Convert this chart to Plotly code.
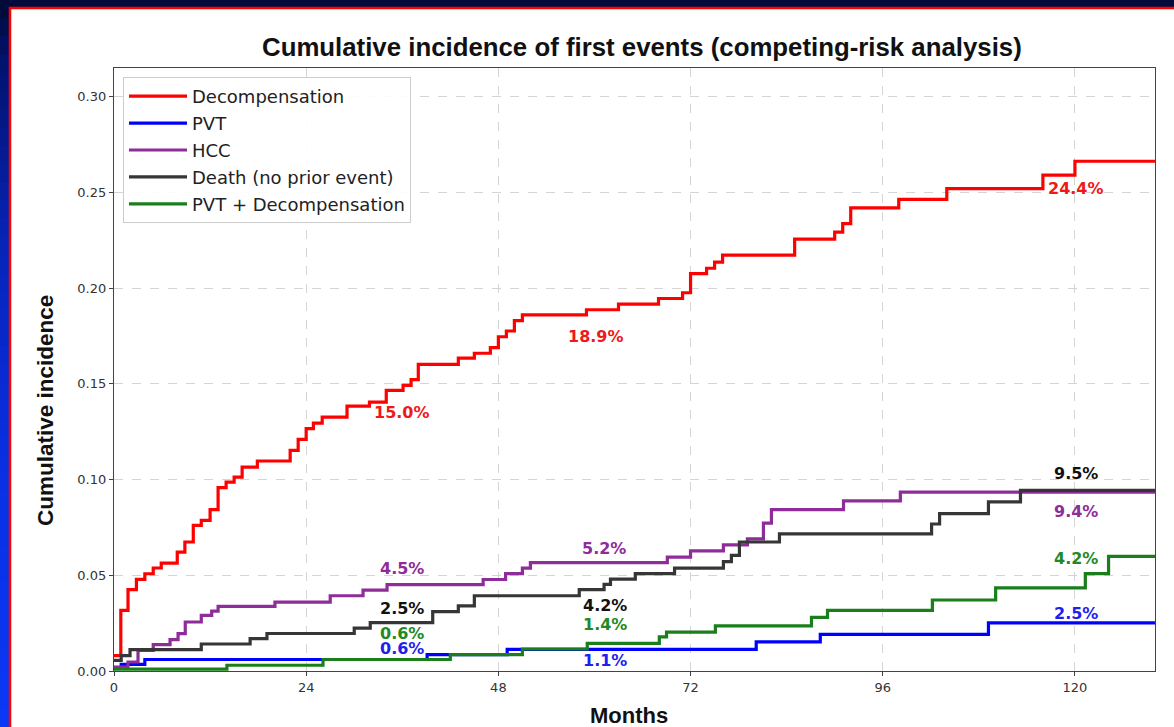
import plotly.graph_objects as go

T_MAX = 130

# ---------------- data (months, cumulative incidence) ----------------
decomp_t = [0, 0.85, 1.75, 2.8, 3.85, 4.9, 5.9, 7.9, 8.85, 9.9, 10.9, 12, 13, 14, 15, 16, 17.9,
            22, 23, 24, 24.9, 26, 29.1, 31.9, 34, 36.1, 37.1, 38, 43, 45, 47, 48, 49, 50, 51,
            59, 63, 68, 71, 72, 74, 75, 76, 85, 90, 91, 92, 98, 104, 116, 120]
decomp_v = [0.008, 0.0317, 0.0425, 0.0479, 0.0508, 0.0538, 0.0564, 0.0621, 0.0674, 0.0761,
            0.0787, 0.0843, 0.0958, 0.0987, 0.1013, 0.1065, 0.1097, 0.1153, 0.121, 0.1266,
            0.1295, 0.1326, 0.1384, 0.1405, 0.1466, 0.1492, 0.1522, 0.1602, 0.1634, 0.166,
            0.1689, 0.1746, 0.1776, 0.1830, 0.1860, 0.1887, 0.1917, 0.1946, 0.1976, 0.2076,
            0.2104, 0.2136, 0.2172, 0.2256, 0.2293, 0.2337, 0.2419, 0.2464, 0.2520, 0.2590, 0.2663]

pvt_t = [0, 0.9, 3.85, 39.1, 49.1, 80.2, 88.2, 109.2]
pvt_v = [0.0015, 0.0035, 0.006, 0.0086, 0.0113, 0.0152, 0.0191, 0.0251]

hcc_t = [0, 1.75, 3, 4.9, 7, 8, 8.9, 10.9, 12.2, 13, 20.1, 27, 31.1, 34.1, 46.1, 48.9, 51, 52,
         69.1, 72, 76.1, 79.1, 81.1, 82.1, 91.1, 98.2]
hcc_v = [0.002, 0.0047, 0.0108, 0.0138, 0.0164, 0.0195, 0.0256, 0.0291, 0.0313, 0.0338, 0.036,
         0.0393, 0.0422, 0.0451, 0.0478, 0.0509, 0.0537, 0.0566, 0.0595, 0.0628, 0.0659, 0.069,
         0.0772, 0.0843, 0.0889, 0.0934]

death_t = [0, 0.9, 2, 10.9, 17, 19.1, 30, 32, 39.8, 43, 45, 58.1, 61.2, 62, 65.1, 70, 76.1, 77.1,
           78.1, 83.1, 102.1, 103.1, 109.2, 113.2]
death_v = [0.0056, 0.008, 0.0112, 0.0141, 0.0169, 0.0196, 0.0224, 0.0253, 0.031, 0.034, 0.0393,
           0.0425, 0.0452, 0.048, 0.0509, 0.0537, 0.0571, 0.0604, 0.0674, 0.0716, 0.0768, 0.0822,
           0.0883, 0.0944]

pvtd_t = [0, 14.1, 26.1, 42, 51, 59.1, 68.1, 69, 75.1, 87.1, 89.1, 102.2, 110.1, 121.3, 124.2]
pvtd_v = [0.001, 0.003, 0.006, 0.0086, 0.0115, 0.0144, 0.0178, 0.0203, 0.0236, 0.028, 0.0317,
          0.0371, 0.0434, 0.0509, 0.0599]

series_names = ["Decompensation", "PVT", "HCC", "Death (no prior event)", "PVT + Decompensation"]
series_t = [decomp_t, pvt_t, hcc_t, death_t, pvtd_t]
series_v = [decomp_v, pvt_v, hcc_v, death_v, pvtd_v]
series_colors = ["#ff0000", "#0000ff", "#8e2c9a", "#363636", "#1a7f1a"]
label_colors = ["#f01818", "#1f1fee", "#8e2c9a", "#111111", "#238a23"]

x_ticks = [0, 24, 48, 72, 96, 120]

# in-plot percentage labels
ann_text = ["15.0%", "18.9%", "24.4%",
            "0.6%", "1.1%", "2.5%",
            "4.5%", "5.2%", "9.4%",
            "2.5%", "4.2%", "9.5%",
            "0.6%", "1.4%", "4.2%"]
ann_series = [0, 0, 0, 1, 1, 1, 2, 2, 2, 3, 3, 3, 4, 4, 4]
ann_x = [36.0, 60.2, 120.1, 36.0, 61.3, 120.1, 36.0, 61.2, 120.1, 36.0, 61.3, 120.1, 36.0, 61.3, 120.1]
ann_y = [0.135, 0.1745, 0.252, 0.0117, 0.0056, 0.030, 0.0535, 0.0642, 0.0834,
         0.0329, 0.0343, 0.1031, 0.0198, 0.0242, 0.0587]

# ---------------- figure ----------------
W, H = 1174, 727
ML, MR, MT, MB = 114, 19, 68, 56
PW, PH = W - ML - MR, H - MT - MB


def px_x(p):
    return (p - ML) / PW


def px_y(p):
    return (H - MB - p) / PH


fig = go.Figure()
for name, t, v, c in zip(series_names, series_t, series_v, series_colors):
    fig.add_trace(go.Scatter(
        x=list(t) + [T_MAX], y=list(v) + [v[-1]],
        mode="lines", name=name, legendgroup=name,
        line=dict(color=c, width=3.2, shape="hv"),
    ))

annotations = []
for txt, s, x, y in zip(ann_text, ann_series, ann_x, ann_y):
    annotations.append(dict(
        x=x, y=y, xref="x", yref="y", text=txt, showarrow=False,
        xanchor="center", yanchor="middle",
        font=dict(family="DejaVu Sans", size=16, color=label_colors[s], weight="bold"),
    ))

annotations.append(dict(
    x=px_x(642), y=px_y(47), xref="paper", yref="paper", showarrow=False,
    text="Cumulative incidence of first events (competing-risk analysis)",
    xanchor="center", yanchor="middle",
    font=dict(family="Liberation Sans", size=25.8, color="#111111", weight="bold"),
))
annotations.append(dict(
    x=px_x(629), y=px_y(715), xref="paper", yref="paper", showarrow=False,
    text="Months", xanchor="center", yanchor="middle",
    font=dict(family="Liberation Sans", size=22, color="#111111", weight="bold"),
))
annotations.append(dict(
    x=px_x(45), y=px_y(411), xref="paper", yref="paper", showarrow=False,
    text="Cumulative incidence", textangle=-90, xanchor="center", yanchor="middle",
    font=dict(family="Liberation Sans", size=22.5, color="#111111", weight="bold"),
))

# background: vertical blue gradient, white panel with red edge
stops = [(0, (0, 10, 50)), (60, (2, 18, 110)), (250, (6, 36, 185)), (480, (9, 48, 228)), (727, (10, 56, 245))]


def grad(py):
    for (a, ca), (b, cb) in zip(stops[:-1], stops[1:]):
        if a <= py <= b:
            f = (py - a) / (b - a)
            return "rgb(%d,%d,%d)" % tuple(round(ca[i] + (cb[i] - ca[i]) * f) for i in range(3))
    return "rgb(%d,%d,%d)" % stops[-1][1]


shapes = []
nb = 40
for i in range(nb):
    y0p = H * i / nb
    y1p = H * (i + 1) / nb
    shapes.append(dict(type="rect", xref="paper", yref="paper", layer="below",
                       x0=px_x(-2), x1=px_x(W + 2), y0=px_y(y1p + 1), y1=px_y(y0p),
                       fillcolor=grad((y0p + y1p) / 2), line=dict(width=0)))
shapes.append(dict(type="rect", xref="paper", yref="paper", layer="below",
                   x0=px_x(10), x1=px_x(W + 20), y0=px_y(H + 20), y1=px_y(8),
                   fillcolor="white", line=dict(color="#ff0000", width=2.5)))

axis_common = dict(
    showline=True, linecolor="#444444", linewidth=1.3, mirror=True,
    ticks="outside", ticklen=4, tickwidth=1, tickcolor="#444444",
    showgrid=True, gridcolor="#d4d4d4", gridwidth=1, griddash="dash",
    zeroline=False,
    tickfont=dict(family="DejaVu Sans", size=13, color="#333333"),
)

fig.update_layout(
    width=W, height=H,
    margin=dict(l=ML, r=MR, t=MT, b=MB),
    paper_bgcolor="rgb(0,10,50)", plot_bgcolor="white",
    showlegend=True,
    legend=dict(
        x=px_x(123), y=px_y(77), xanchor="left", yanchor="top",
        bgcolor="rgba(255,255,255,0.9)", bordercolor="#cccccc", borderwidth=1,
        font=dict(family="DejaVu Sans", size=18, color="#222222"),
        traceorder="grouped", tracegroupgap=0.5, itemwidth=58,
    ),
    xaxis=dict(range=[0, T_MAX], tickvals=x_ticks, **axis_common),
    yaxis=dict(range=[0, 0.315], dtick=0.05, tick0=0, tickformat=".2f", **axis_common),
    annotations=annotations,
    shapes=shapes,
)

fig.write_html(
    "out.html",
    config={"displayModeBar": False},
    post_script="document.body.style.margin='0px';document.body.style.overflow='hidden';",
)
